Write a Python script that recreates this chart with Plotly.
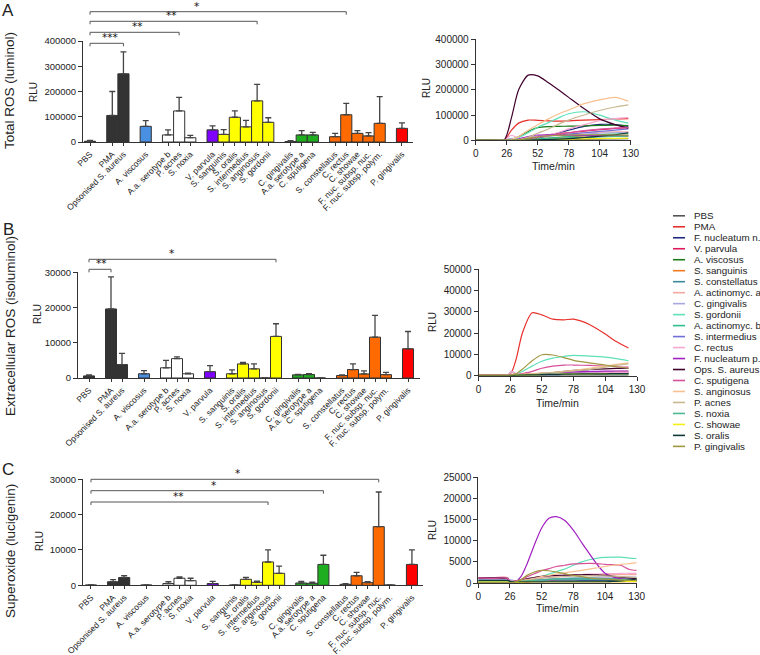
import plotly.graph_objects as go

W, H = 760, 655
FONT = "Liberation Sans, Arial, sans-serif"
INK = "#222222"

# ---------------- bar data ----------------
categories = ["PBS", "PMA", "Opsonised S. aureus", "A. viscosus", "A.a. serotype b", "P. acnes",
              "S. noxia", "V. parvula", "S. sanguinis", "S. oralis", "S. intermedius", "S. anginosus",
              "S. gordonii", "C. gingivalis", "A.a. serotype a", "C. sputigena", "S. constellatus",
              "C. rectus", "C. showae", "F. nuc. subsp. nuc.", "F. nuc. subsp. polym.", "P. gingivalis"]
group_sizes_A = [1, 2, 1, 3, 6, 3, 5, 1]
group_sizes_BC = [1, 2, 1, 3, 1, 5, 3, 5, 1]

lum_mean = [3000, 105000, 270000, 62000, 28000, 123000, 17000, 48000, 30000, 98000, 60000,
            163000, 78000, 2000, 28000, 28000, 21000, 108000, 34000, 24000, 74000, 54000]
lum_err = [3000, 95000, 87000, 23000, 20000, 54000, 9000, 16000, 19000, 25000, 26000,
           65000, 18000, 3000, 17000, 10000, 13000, 45000, 11000, 13000, 106000, 22000]

iso_mean = [600, 19600, 3800, 1200, 2900, 5500, 1200, 1800, 1200, 4000, 2600,
            0, 11800, 900, 1000, 0, 700, 2400, 1150, 11600, 950, 8300]
iso_err = [300, 9100, 3200, 900, 2100, 500, 200, 1700, 1100, 400, 1400,
           0, 3600, 150, 200, 0, 200, 1600, 850, 6200, 650, 4900]

luc_mean = [100, 1000, 2200, 100, 500, 2000, 1300, 500, 100, 1700, 850,
            6600, 3400, 650, 570, 5900, 280, 2700, 750, 16600, 100, 5900]
luc_err = [0, 600, 500, 0, 500, 400, 700, 600, 0, 550, 300,
           3400, 2000, 450, 350, 2600, 200, 950, 300, 9800, 0, 4100]

# ---------------- kinetic line data ----------------
series_names = ["PBS", "PMA", "F. nucleatum n.", "V. parvula", "A. viscosus", "S. sanguinis",
                "S. constellatus", "A. actinomyc. a", "C. gingivalis", "S. gordonii",
                "A. actinomyc. b", "S. intermedius", "C. rectus", "F. nucleatum p.",
                "Ops. S. aureus", "C. sputigena", "S. anginosus", "P. acnes", "S. noxia",
                "C. showae", "S. oralis", "P. gingivalis"]

# Panel A (luminol)
t_lum = [0, 13, 24, 30, 36, 44, 52, 61, 70, 78, 91, 104, 117, 128]
lum_pbs = [1000, 1000, 1000, 500, 500, 1000, 1500, 2000, 2500, 3000, 4000, 5000, 6000, 7000]
lum_pma = [1000, 1000, 1500, 40000, 68000, 80000, 79000, 77000, 76000, 77000, 80000, 82000, 85000, 86000]
lum_fnn = [0, 0, 0, 0, 1000, 3000, 8000, 18000, 30000, 40000, 55000, 63000, 62000, 55000]
lum_vpa = [0, 0, 0, 0, 2000, 8000, 16000, 22000, 26000, 30000, 36000, 42000, 47000, 50000]
lum_avi = [0, 0, 0, 3000, 15000, 35000, 50000, 54000, 55000, 56000, 57000, 59000, 60000, 58000]
lum_ssa = [0, 0, 0, 0, 1000, 3000, 6000, 9000, 12000, 14000, 17000, 19000, 20000, 20000]
lum_sco = [0, 0, 0, 0, 500, 1500, 3000, 5000, 7000, 9000, 12000, 15000, 18000, 20000]
lum_aaa = [0, 0, 0, 0, 2000, 8000, 15000, 20000, 24000, 27000, 30000, 32000, 33000, 33000]
lum_cgi = [0, 0, 2000, 8000, 6000, 8000, 12000, 16000, 20000, 22000, 25000, 28000, 30000, 30000]
lum_sgo = [0, 0, 0, 2000, 10000, 30000, 52000, 70000, 90000, 105000, 113000, 100000, 80000, 68000]
lum_aab = [0, 0, 0, 0, 1000, 3000, 6000, 9000, 12000, 15000, 19000, 22000, 25000, 27000]
lum_sin = [0, 0, 0, 0, 2000, 8000, 16000, 20000, 22000, 25000, 30000, 35000, 40000, 45000]
lum_cre = [0, 0, 1000, 20000, 8000, 10000, 15000, 22000, 32000, 45000, 62000, 78000, 86000, 90000]
lum_fnp = [0, 0, 0, 0, 5000, 15000, 21000, 22000, 21000, 20000, 19000, 18000, 17000, 16000]
lum_osa = [2000, 2000, 2000, 90000, 200000, 258000, 255000, 228000, 198000, 170000, 125000, 85000, 62000, 48000]
lum_csp = [0, 0, 0, 0, 2000, 6000, 12000, 18000, 24000, 30000, 38000, 44000, 48000, 50000]
lum_san = [0, 0, 0, 3000, 15000, 40000, 62000, 85000, 105000, 120000, 145000, 160000, 170000, 155000]
lum_pac = [0, 0, 0, 0, 3000, 12000, 28000, 45000, 65000, 80000, 100000, 118000, 132000, 140000]
lum_sno = [0, 0, 0, 0, 500, 1500, 3000, 5000, 7000, 9000, 11000, 13000, 15000, 16000]
lum_csh = [0, 0, 0, 0, 500, 1000, 2000, 3000, 4000, 5000, 6000, 7000, 8000, 9000]
lum_sor = [0, 0, 0, 0, 500, 1000, 2000, 3000, 5000, 7000, 11000, 16000, 22000, 30000]
lum_pgi = [0, 0, 0, 0, 2000, 8000, 14000, 18000, 20000, 21000, 22000, 22000, 21000, 20000]

# Panel B (isoluminol)
t_iso = [0, 13, 24, 27, 31, 36, 44, 52, 61, 70, 78, 91, 104, 113, 123]
iso_pbs = [300, 300, 300, 300, 300, 300, 300, 300, 300, 300, 300, 300, 300, 300, 300]
iso_pma = [500, 500, 500, 1500, 8000, 20000, 29500, 28500, 26500, 26200, 26500, 24000, 19500, 16000, 13000]
iso_fnn = [100, 100, 100, 100, 100, 200, 300, 400, 500, 600, 700, 800, 900, 1000, 1000]
iso_vpa = [100, 100, 100, 200, 300, 400, 600, 800, 1000, 1100, 1200, 1300, 1400, 1500, 1500]
iso_avi = [100, 100, 100, 200, 300, 500, 700, 800, 900, 1000, 1000, 1000, 1000, 1000, 1000]
iso_ssa = [100, 100, 100, 100, 200, 300, 400, 500, 600, 700, 800, 900, 1000, 1100, 1200]
iso_sco = [100, 100, 100, 100, 150, 200, 300, 400, 500, 600, 700, 800, 900, 900, 1000]
iso_aaa = [200, 200, 300, 1500, 600, 500, 700, 900, 1100, 1300, 1500, 1700, 1900, 2000, 2100]
iso_cgi = [200, 200, 300, 2000, 800, 600, 700, 800, 900, 1000, 1100, 1200, 1300, 1300, 1400]
iso_sgo = [200, 200, 200, 300, 800, 2000, 4500, 6800, 8200, 9000, 9500, 9200, 8700, 8000, 7000]
iso_aab = [100, 100, 100, 200, 300, 400, 500, 600, 700, 800, 900, 1000, 1100, 1200, 1300]
iso_sin = [100, 100, 100, 200, 300, 400, 600, 800, 1000, 1200, 1300, 1400, 1500, 1500, 1500]
iso_cre = [200, 200, 400, 2200, 900, 700, 800, 900, 1000, 1100, 1200, 1300, 1400, 1500, 1600]
iso_fnp = [100, 100, 100, 200, 300, 500, 800, 1100, 1400, 1600, 1800, 2000, 2100, 2200, 2200]
iso_osa = [100, 100, 100, 200, 300, 500, 800, 1000, 1500, 2000, 2500, 2900, 3200, 3400, 3500]
iso_csp = [200, 200, 200, 300, 500, 1000, 2000, 3500, 4500, 5000, 5000, 4800, 4500, 4200, 4000]
iso_san = [0, 0, 0, 100, 300, 600, 1000, 1300, 1600, 2000, 2500, 3500, 4500, 5300, 6000]
iso_pac = [0, 0, 0, 100, 200, 400, 800, 1200, 1500, 1800, 2200, 3000, 4000, 4800, 5500]
iso_sno = [100, 100, 100, 200, 300, 400, 500, 600, 700, 800, 900, 1000, 1000, 1000, 1000]
iso_csh = [100, 100, 100, 100, 200, 300, 400, 500, 600, 700, 800, 900, 1000, 1000, 1000]
iso_sor = [100, 100, 100, 100, 200, 300, 400, 500, 600, 700, 800, 900, 900, 1000, 1000]
iso_pgi = [300, 300, 300, 400, 1000, 3000, 7000, 9800, 9700, 8500, 7200, 6000, 5000, 4200, 3500]

# Panel C (lucigenin)
t_luc = [0, 13, 24, 26, 30, 35, 40, 46, 52, 58, 64, 71, 78, 85, 91, 98, 104, 111, 117, 124, 130]
luc_pbs = [1000, 1000, 1000, 500, 400, 400, 400, 500, 500, 500, 500, 500, 500, 500, 500, 500, 500, 500, 500, 600, 700]
luc_pma = [500, 500, 500, 300, 300, 400, 500, 600, 700, 800, 900, 1000, 1000, 1000, 1000, 1000, 1000, 1000, 900, 900, 800]
luc_fnn = [300, 300, 300, 200, 200, 200, 300, 300, 300, 400, 400, 400, 400, 500, 500, 500, 500, 500, 500, 600, 600]
luc_vpa = [200, 200, 200, 200, 200, 300, 400, 500, 600, 700, 800, 900, 1000, 1100, 1100, 1100, 1100, 1000, 1000, 900, 900]
luc_avi = [200, 200, 200, 200, 200, 300, 400, 600, 800, 900, 1000, 1000, 1000, 1000, 900, 900, 800, 800, 700, 700, 600]
luc_ssa = [300, 300, 300, 200, 200, 200, 200, 300, 300, 300, 300, 300, 300, 300, 300, 300, 300, 300, 300, 300, 300]
luc_sco = [400, 400, 400, 300, 300, 300, 300, 400, 400, 400, 400, 400, 400, 400, 400, 400, 400, 400, 400, 400, 400]
luc_aaa = [1300, 1300, 1300, 400, 500, 700, 900, 1100, 1300, 1500, 1600, 1700, 1800, 1900, 1900, 2000, 2000, 2000, 2000, 2000, 2000]
luc_cgi = [800, 800, 800, 800, 500, 500, 600, 700, 800, 900, 1000, 1100, 1200, 1300, 1300, 1400, 1400, 1400, 1400, 1400, 1400]
luc_sgo = [300, 300, 300, 300, 400, 500, 700, 1000, 1500, 2100, 2700, 3300, 4200, 5000, 5500, 5900, 6050, 6100, 6100, 5900, 5800]
luc_aab = [300, 300, 300, 300, 300, 400, 500, 600, 700, 800, 900, 1000, 1100, 1100, 1100, 1100, 1000, 1000, 1000, 900, 900]
luc_sin = [500, 500, 500, 300, 300, 400, 500, 600, 700, 800, 800, 900, 900, 900, 900, 900, 900, 900, 900, 900, 900]
luc_cre = [1300, 1300, 1300, 400, 500, 700, 900, 1100, 1300, 1500, 1700, 1800, 1900, 2000, 2100, 2100, 2200, 2200, 2300, 2300, 2300]
luc_fnp = [200, 200, 200, 100, 200, 1500, 4500, 9000, 13000, 15300, 15700, 14800, 12500, 9500, 7000, 4200, 2300, 1400, 1000, 700, 500]
luc_osa = [1200, 1200, 1100, 300, 400, 700, 1000, 1300, 1600, 1700, 1800, 1850, 1900, 1950, 2000, 1900, 1800, 1600, 1400, 1200, 1000]
luc_csp = [1200, 1100, 1100, 300, 400, 800, 1500, 2200, 2900, 3400, 3900, 4200, 4500, 4600, 4650, 4600, 4400, 4300, 4200, 3200, 3000]
luc_san = [200, 200, 200, 200, 300, 500, 800, 1100, 1500, 1800, 2100, 2400, 2700, 3000, 3300, 3600, 3900, 4200, 4400, 4600, 4800]
luc_pac = [200, 200, 200, 200, 300, 500, 700, 900, 1100, 1300, 1400, 1500, 1600, 1700, 1700, 1700, 1700, 1600, 1500, 1400, 1300]
luc_sno = [300, 300, 300, 300, 300, 400, 500, 600, 700, 800, 900, 900, 900, 900, 900, 900, 900, 900, 800, 800, 800]
luc_csh = [200, 200, 200, 200, 200, 200, 300, 300, 300, 300, 300, 300, 300, 300, 300, 300, 300, 300, 300, 400, 400]
luc_sor = [600, 600, 600, 400, 300, 300, 300, 300, 300, 300, 300, 300, 300, 300, 300, 300, 300, 400, 500, 700, 900]
luc_pgi = [100, 100, 100, 100, 200, 800, 1800, 2600, 3000, 2900, 2600, 2200, 1800, 1500, 1200, 1000, 900, 800, 700, 600, 600]

lum_lines = [lum_pbs, lum_pma, lum_fnn, lum_vpa, lum_avi, lum_ssa, lum_sco, lum_aaa, lum_cgi, lum_sgo, lum_aab,
             lum_sin, lum_cre, lum_fnp, lum_osa, lum_csp, lum_san, lum_pac, lum_sno, lum_csh, lum_sor, lum_pgi]
iso_lines = [iso_pbs, iso_pma, iso_fnn, iso_vpa, iso_avi, iso_ssa, iso_sco, iso_aaa, iso_cgi, iso_sgo, iso_aab,
             iso_sin, iso_cre, iso_fnp, iso_osa, iso_csp, iso_san, iso_pac, iso_sno, iso_csh, iso_sor, iso_pgi]
luc_lines = [luc_pbs, luc_pma, luc_fnn, luc_vpa, luc_avi, luc_ssa, luc_sco, luc_aaa, luc_cgi, luc_sgo, luc_aab,
             luc_sin, luc_cre, luc_fnp, luc_osa, luc_csp, luc_san, luc_pac, luc_sno, luc_csh, luc_sor, luc_pgi]

# ---------------- styles ----------------
bar_colors = ["#333333", "#333333", "#333333", "#4a90e2", "#ffffff", "#ffffff", "#ffffff", "#7f00ff",
              "#ffff00", "#ffff00", "#ffff00", "#ffff00", "#ffff00",
              "#1fae1f", "#1fae1f", "#1fae1f",
              "#ff6a00", "#ff6a00", "#ff6a00", "#ff6a00", "#ff6a00", "#ff0000"]
line_colors = ["#555555", "#e8302a", "#1f2a80", "#e0195e", "#1a7a1a", "#f47a20", "#3a8a9a", "#f5a9a0",
               "#a8a8e0", "#5ee0b8", "#2dbf8a", "#7070d8", "#f5a8d0", "#a020c0", "#40002e", "#d8509a",
               "#f8c090", "#c8b890", "#4cb890", "#f5ee10", "#103838", "#a09840"]


def positions(sizes):
    pos, p = [], 0
    for s in sizes:
        for _ in range(s):
            pos.append(p)
            p += 1
        p += 1
    return pos


def xd(a, b):
    return [a / W, b / W]


def yd(top, bottom):
    return [1 - bottom / H, 1 - top / H]


def py(v):
    return 1 - v / H


fig = go.Figure()
layout = dict(width=W, height=H, autosize=False, margin=dict(l=0, r=0, t=0, b=0, pad=0, autoexpand=False),
              paper_bgcolor="white", plot_bgcolor="white", showlegend=False,
              font=dict(family=FONT, color=INK, size=10))
shapes, annotations = [], []

axis_common = dict(showline=True, linecolor="#333333", linewidth=1, ticks="outside", automargin=False,
                   tickcolor="#333333", ticklen=4, tickwidth=1, showgrid=False, zeroline=False)

bar_panels = [
    dict(mean=lum_mean, err=lum_err, sizes=group_sizes_A, xpx=(83, 413), ypx=(41, 142),
         ymax=400000, dtick=100000, xr=(-0.63, 28.99)),
    dict(mean=iso_mean, err=iso_err, sizes=group_sizes_BC, xpx=(78, 420), ypx=(272.3, 378),
         ymax=30000, dtick=10000, xr=(-1.0, 30.09)),
    dict(mean=luc_mean, err=luc_err, sizes=group_sizes_BC, xpx=(83, 423), ypx=(479.3, 585.3),
         ymax=30000, dtick=10000, xr=(-0.72, 30.0)),
]
line_panels = [
    dict(t=t_lum, data=lum_lines, xpx=(475.7, 630.7), ypx=(39.3, 140.3), ymax=400000, dtick=100000),
    dict(t=t_iso, data=iso_lines, xpx=(478.5, 637), ypx=(269, 375.7), ymax=50000, dtick=10000),
    dict(t=t_luc, data=luc_lines, xpx=(478.3, 636.7), ypx=(477.3, 583), ymax=25000, dtick=5000),
]

bar_pos = []
for i, bp in enumerate(bar_panels):
    n = 2 * i + 1
    xs = "" if n == 1 else str(n)
    pos = positions(bp["sizes"])
    bar_pos.append(pos)
    fig.add_trace(go.Bar(
        x=pos, y=bp["mean"], width=1.0, xaxis="x" + xs, yaxis="y" + xs,
        marker=dict(color=bar_colors, line=dict(color="#333333", width=1)),
        error_y=dict(type="data", array=bp["err"], arrayminus=[0] * len(pos), symmetric=False,
                     color="#444444", thickness=1.3, width=3),
        hoverinfo="skip"))
    layout["xaxis" + xs] = dict(axis_common, domain=xd(*bp["xpx"]), range=list(bp["xr"]),
                                anchor="y" + xs, tickvals=pos, ticktext=categories, tickangle=-45,
                                ticklen=3, tickfont=dict(size=8.5, family=FONT, color=INK))
    layout["yaxis" + xs] = dict(axis_common, domain=yd(*bp["ypx"]), range=[0, bp["ymax"]],
                                anchor="x" + xs, dtick=bp["dtick"], tickformat="d",
                                tickfont=dict(size=9.5, family=FONT, color=INK))

for i, lp in enumerate(line_panels):
    n = 2 * i + 2
    xs = str(n)
    for name, col, ys in zip(series_names, line_colors, lp["data"]):
        fig.add_trace(go.Scatter(x=lp["t"], y=ys, mode="lines", name=name,
                                 line=dict(color=col, width=1.2, shape="spline", smoothing=0.7),
                                 xaxis="x" + xs, yaxis="y" + xs, hoverinfo="skip"))
    layout["xaxis" + xs] = dict(axis_common, domain=xd(*lp["xpx"]), range=[0, 130], anchor="y" + xs,
                                tickvals=[0, 26, 52, 78, 104, 130],
                                tickfont=dict(size=10, family=FONT, color=INK))
    layout["yaxis" + xs] = dict(axis_common, domain=yd(*lp["ypx"]), range=[0, lp["ymax"]],
                                anchor="x" + xs, dtick=lp["dtick"], tickformat="d",
                                tickfont=dict(size=10, family=FONT, color=INK))

# significance brackets: (panel, from, to, line_y_px, label, label_x_px)
brackets = [
    (0, "PBS", "Opsonised S. aureus", 43.3, "***", 110),
    (0, "PBS", "P. acnes", 32.3, "**", 137),
    (0, "PBS", "S. anginosus", 21.3, "**", 171),
    (0, "PBS", "C. rectus", 11.7, "*", 196),
    (1, "PBS", "PMA", 269.3, "**", 101),
    (1, "PBS", "S. gordonii", 259.3, "*", 171),
    (2, "PBS", "F. nuc. subsp. nuc.", 479.3, "*", 237),
    (2, "PBS", "C. sputigena", 490.7, "*", 213),
    (2, "PBS", "S. anginosus", 502, "**", 178),
]
for p, a, b, ly, lab, lx in brackets:
    xs = "x" if p == 0 else "x" + str(2 * p + 1)
    xa = bar_pos[p][categories.index(a)]
    xb = bar_pos[p][categories.index(b)]
    for x0, x1, y0, y1 in [(xa, xb, ly, ly), (xa, xa, ly, ly + 3), (xb, xb, ly, ly + 3)]:
        shapes.append(dict(type="line", xref=xs, yref="paper", x0=x0, x1=x1, y0=py(y0), y1=py(y1),
                           line=dict(color="#555555", width=1)))
    annotations.append(dict(text=lab, x=lx / W, y=py(ly + 2), xref="paper", yref="paper",
                            xanchor="center", yanchor="bottom", showarrow=False,
                            font=dict(size=10.5, family="DejaVu Sans, sans-serif", color="#111111")))


def txt(t, x, y, size, angle=0, anchor="center"):
    annotations.append(dict(text=t, x=x / W, y=py(y), xref="paper", yref="paper", xanchor=anchor,
                            yanchor="middle", showarrow=False, textangle=angle,
                            font=dict(size=size, family=FONT, color=INK)))


# panel letters and titles
txt("A", 8, 10, 17)
txt("B", 8, 230, 17)
txt("C", 8, 469, 17)
txt("Total ROS (luminol)", 10, 91, 13.5, -90)
txt("Extracellular ROS (isoluminol)", 10, 326, 13.5, -90)
txt("Superoxide (lucigenin)", 10, 551, 13.5, -90)
txt("RLU", 33, 92, 10, -90)
txt("RLU", 38, 314, 10, -90)
txt("RLU", 39, 541, 10, -90)
txt("RLU", 427, 88, 10, -90)
txt("RLU", 432, 322, 10, -90)
txt("RLU", 432, 530, 10, -90)
txt("Time/min", 553, 166, 10.5)
txt("Time/min", 557, 403, 10.5)
txt("Time/min", 557, 607.5, 10.5)

# legend (drawn manually for compact spacing)
for i, (name, col) in enumerate(zip(series_names, line_colors)):
    yy = 215.8 + 10.98 * i
    shapes.append(dict(type="line", xref="paper", yref="paper", x0=673 / W, x1=685 / W,
                       y0=py(yy), y1=py(yy), line=dict(color=col, width=1.6)))
    txt(name, 692, yy, 9.8, 0, "left")

layout["shapes"] = shapes
layout["annotations"] = annotations
fig.update_layout(**layout)
fig.write_html("out.html", config={"displayModeBar": False, "staticPlot": True},
               post_script="document.body.style.margin='0px';document.body.style.padding='0px';")
